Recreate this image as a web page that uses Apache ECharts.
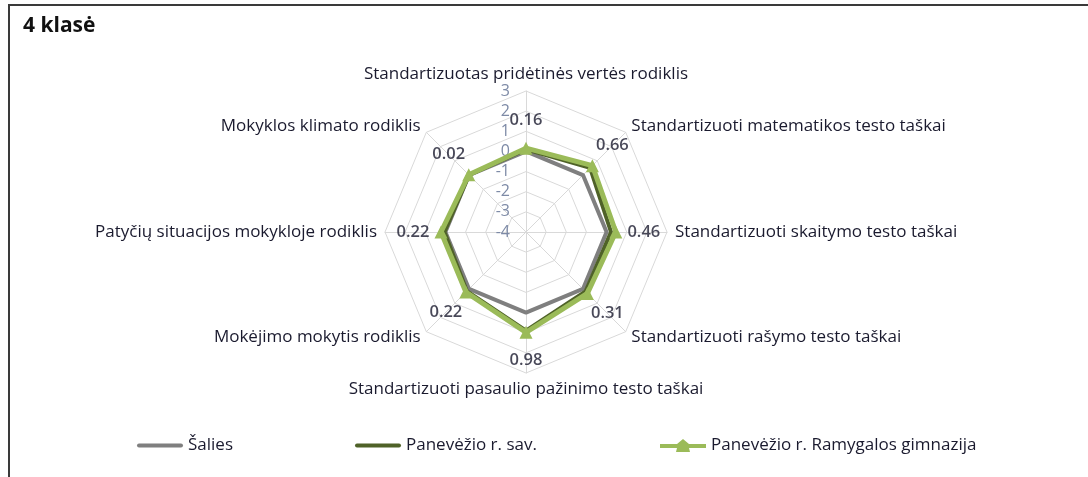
<!DOCTYPE html>
<html><head><meta charset="utf-8">
<script src="https://cdn.jsdelivr.net/npm/echarts@6/dist/echarts.min.js"></script>
<style>
html,body{margin:0;padding:0;background:#fff;}
#frame{position:absolute;left:8px;top:4px;width:1090px;height:480px;border-left:2px solid #3a3a3a;border-top:2px solid #3a3a3a;}
#chart{position:absolute;left:0;top:0;width:1088px;height:477px;}
</style></head>
<body>
<div id="frame"></div>
<div id="chart"></div>
<script>
// Indicators listed counter-clockwise starting from the top (radar order)
const indicators = [
  'Standartizuotas pridėtinės vertės rodiklis',
  'Mokyklos klimato rodiklis',
  'Patyčių situacijos mokykloje rodiklis',
  'Mokėjimo mokytis rodiklis',
  'Standartizuoti pasaulio pažinimo testo taškai',
  'Standartizuoti rašymo testo taškai',
  'Standartizuoti skaitymo testo taškai',
  'Standartizuoti matematikos testo taškai'
];
const seriesNames = ['Šalies', 'Panevėžio r. sav.', 'Panevėžio r. Ramygalos gimnazija'];
const salies     = [0, 0, 0, 0, 0, 0, 0, 0];
const savivald   = [0.10, 0.00, 0.05, 0.15, 0.90, 0.18, 0.22, 0.50];
const gimnazija  = [0.16, 0.02, 0.22, 0.22, 0.98, 0.31, 0.46, 0.66];
const scaleMin = -4, scaleMax = 3, scaleStep = 1;

const CX = 526, CY = 232, R = 141;
const txt = '#1a1a2e';
const font = 'Open Sans';
const colors = ['#7f7f7f', '#4f6228', '#9bbb59'];

const chart = echarts.init(document.getElementById('chart'), null, {renderer:'canvas'});

const labelData = gimnazija.map((v, i) => {
  const ang = (90 + i * 360 / indicators.length) * Math.PI / 180;
  const d = 28;
  return {
    value: [v, indicators[i]],
    label: {offset: [Math.round(d * Math.cos(ang)), Math.round(-d * Math.sin(ang))]}
  };
});

const legendText = {fontSize: 17, color: txt, fontFamily: font};
const lineIcon = 'path://M2,0 L44,0 A2,2 0 0 1 44,4 L2,4 A2,2 0 0 1 2,0 Z';
const triIcon = 'path://M0,5 L17,5 L23,0 L29,5 L46,5 L46,9 L29,9 L30,13 L16,13 L17,9 L0,9 Z';

chart.setOption({
  animation: false,
  textStyle: {fontFamily: font},
  title: {
    text: '4 klasė', left: 18, top: 11,
    textStyle: {fontSize: 21, fontWeight: 'bold', color: '#111', fontFamily: font}
  },
  legend: [
    {left: 132, top: 432, itemWidth: 46, itemHeight: 4, icon: lineIcon,
     textStyle: legendText, data: [seriesNames[0]]},
    {left: 350, top: 432, itemWidth: 46, itemHeight: 4, icon: lineIcon,
     textStyle: legendText, data: [seriesNames[1]]},
    {left: 655, top: 432, itemWidth: 46, itemHeight: 13, icon: triIcon,
     textStyle: legendText, data: [seriesNames[2]]}
  ],
  radar: {
    center: [CX, CY], radius: R,
    startAngle: 90,
    min: scaleMin, max: scaleMax, splitNumber: 7,
    shape: 'polygon',
    indicator: indicators.map(n => ({name: n, min: scaleMin, max: scaleMax})),
    axisName: {color: txt, fontSize: 17, fontFamily: font},
    nameGap: 8,
    splitArea: {show: false},
    splitLine: {lineStyle: {color: '#d9d9d9', width: 1}},
    axisLine: {lineStyle: {color: '#d9d9d9', width: 1}},
    axisTick: {show: false},
    axisLabel: {show: false}
  },
  polar: {center: [CX, CY], radius: R},
  angleAxis: {
    type: 'category', data: indicators, startAngle: 90, clockwise: false,
    boundaryGap: false, show: false
  },
  radiusAxis: {
    type: 'value', min: scaleMin, max: scaleMax, interval: scaleStep,
    axisLine: {show: false}, axisTick: {show: false}, splitLine: {show: false},
    axisLabel: {color: '#7d8aa6', fontSize: 16, fontFamily: font, margin: 16}
  },
  series: [
    {
      name: seriesNames[0], type: 'radar', symbol: 'none', z: 2,
      lineStyle: {color: colors[0], width: 4},
      itemStyle: {color: colors[0]},
      data: [{value: salies, name: seriesNames[0]}]
    },
    {
      name: seriesNames[1], type: 'radar', symbol: 'none', z: 3,
      lineStyle: {color: colors[1], width: 4},
      itemStyle: {color: colors[1]},
      data: [{value: savivald, name: seriesNames[1]}]
    },
    {
      name: seriesNames[2], type: 'radar', symbol: 'triangle', symbolSize: 13, z: 4,
      lineStyle: {color: colors[2], width: 5},
      itemStyle: {color: colors[2]},
      data: [{value: gimnazija, name: seriesNames[2]}]
    },
    {
      type: 'scatter', coordinateSystem: 'polar', symbolSize: 2, z: 10,
      itemStyle: {color: 'rgba(0,0,0,0)'}, silent: true,
      label: {show: true, position: 'inside', color: txt, fontSize: 16.5, fontWeight: 600, fontFamily: font,
        formatter: p => Number(p.value[0]).toFixed(2)},
      data: labelData
    }
  ]
});
</script>
</body></html>
